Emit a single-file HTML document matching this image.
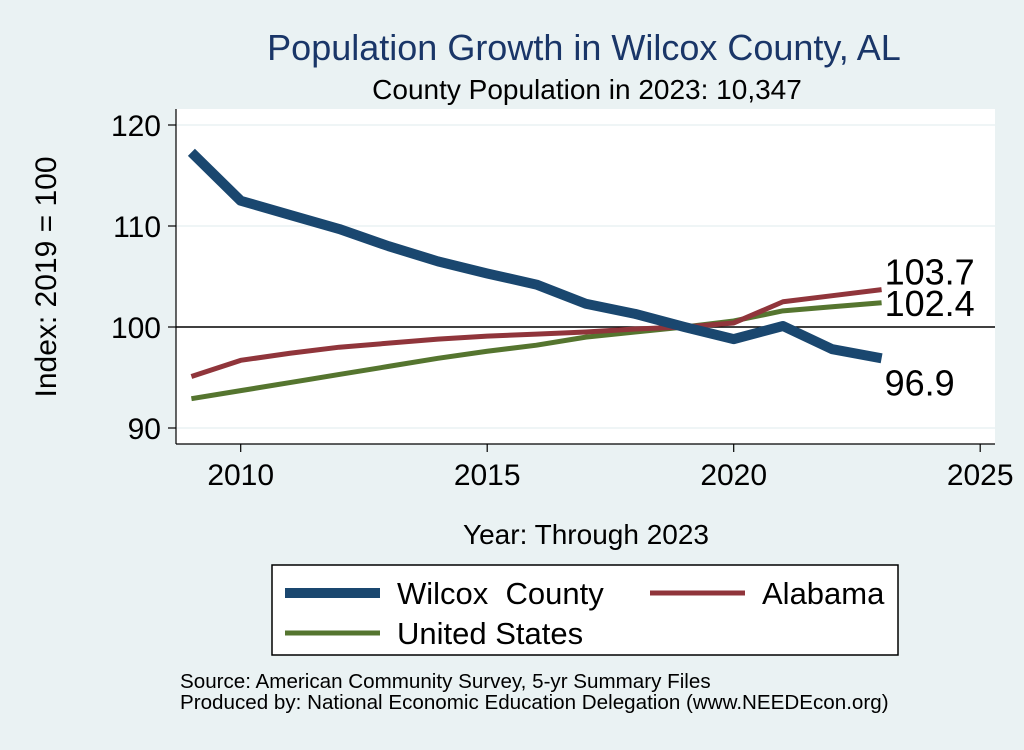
<!DOCTYPE html>
<html><head><meta charset="utf-8"><style>
body{margin:0;background:#eaf2f3;width:1024px;height:745px;overflow:hidden;font-family:"Liberation Sans",sans-serif}
</style></head><body>
<svg width="1024" height="745" font-family="Liberation Sans, sans-serif">
<rect x="0" y="0" width="1024" height="745" fill="#eaf2f3"/>
<text x="584" y="60" font-size="36" fill="#1a3668" text-anchor="middle">Population Growth in Wilcox County, AL</text>
<text x="587" y="99" font-size="28" fill="#000" text-anchor="middle">County Population in 2023: 10,347</text>
<rect x="176" y="109" width="819" height="335" fill="#fff"/>
<g id="grid"></g>
<g id="axes"></g>
<g id="series"></g>
<g id="labels"></g>
<text transform="translate(56,277) rotate(-90)" font-size="30" text-anchor="middle">Index: 2019 = 100</text>
<text x="586" y="544" font-size="28" text-anchor="middle">Year: Through 2023</text>
<g>
<rect x="272" y="565" width="626" height="90" fill="#fff" stroke="#000" stroke-width="1.5"/>
<line x1="285" y1="593" x2="380" y2="593" stroke="#1a476f" stroke-width="10"/>
<text x="397" y="604" font-size="31">Wilcox&#160; County</text>
<line x1="650" y1="593" x2="745" y2="593" stroke="#90353b" stroke-width="5"/>
<text x="762" y="604" font-size="31">Alabama</text>
<line x1="285" y1="633" x2="380" y2="633" stroke="#55752f" stroke-width="5"/>
<text x="397" y="644" font-size="31">United States</text>
</g>
<text x="180" y="688" font-size="20.6">Source: American Community Survey, 5-yr Summary Files</text>
<text x="180" y="709" font-size="20.6">Produced by: National Economic Education Delegation (www.NEEDEcon.org)</text>
</svg>
<script>
const years=[2009,2010,2011,2012,2013,2014,2015,2016,2017,2018,2019,2020,2021,2022,2023];
const wilcox=[117.3,112.5,111.1,109.7,108.0,106.5,105.3,104.2,102.3,101.3,100.0,98.8,100.1,97.8,96.9];
const alabama=[95.1,96.7,97.4,98.0,98.4,98.8,99.1,99.3,99.5,99.8,100.0,100.4,102.5,103.1,103.7];
const us=[92.9,93.7,94.5,95.3,96.1,96.9,97.6,98.2,99.0,99.5,100.0,100.6,101.6,102.0,102.4];
const xTicks=[2010,2015,2020,2025];
const yTicks=[90,100,110,120];
const ns="http://www.w3.org/2000/svg";
function X(v){return 240.7+(v-2010)*49.3;}
function Y(v){return 327-(v-100)*10.1;}
function mk(t,a,p){const e=document.createElementNS(ns,t);for(const k in a)e.setAttribute(k,a[k]);p.appendChild(e);return e;}
const grid=document.getElementById('grid'),axes=document.getElementById('axes'),series=document.getElementById('series'),labels=document.getElementById('labels');
yTicks.forEach(v=>{
 if(v!==100){const g=mk('line',{x1:176,x2:995,y1:Y(v),y2:Y(v),stroke:'#eaf2f3','stroke-width':1.5},grid);
 
 }
 const t=mk('line',{x1:168,x2:176,y1:Y(v),y2:Y(v),stroke:'#000','stroke-width':1.2},axes);
 
 
 const l=mk('text',{x:161,y:Y(v)+11,'font-size':30,'text-anchor':'end'},axes);l.textContent=v;
 
 
});
xTicks.forEach(v=>{
 const t=mk('line',{x1:X(v),x2:X(v),y1:444,y2:452,stroke:'#000','stroke-width':1.2},axes);
 
 
 const l=mk('text',{x:X(v),y:485,'font-size':30,'text-anchor':'middle'},axes);l.textContent=v;
 
 
});
const ref=mk('line',{x1:176,x2:995,y1:Y(100),y2:Y(100),stroke:'#000','stroke-width':1.5},axes);


const la=mk('line',{x1:176,x2:176,y1:109,y2:444,stroke:'#000','stroke-width':1.2},axes);


const ba=mk('line',{x1:176,x2:995,y1:444,y2:444,stroke:'#000','stroke-width':1.2},axes);


function line(vals,color,w,name){
 const p=mk('polyline',{points:vals.map((v,i)=>X(years[i])+','+Y(v)).join(' '),fill:'none',stroke:color,'stroke-width':w,'stroke-linejoin':'round'},series);
 
 
}
line(us,'#55752f',5,'line-united-states');
line(alabama,'#90353b',5,'line-alabama');
line(wilcox,'#1a476f',10,'line-wilcox-county');
function lab(vals,dy,name){
 const v=vals[vals.length-1];const t=mk('text',{x:X(2023)+3,y:Y(v)+dy,'font-size':36},labels);t.textContent=v.toFixed(1);
 
 
}
lab(alabama,-5,'label-alabama-end');
lab(us,13,'label-us-end');
lab(wilcox,37,'label-wilcox-end');
</script>
</body></html>
